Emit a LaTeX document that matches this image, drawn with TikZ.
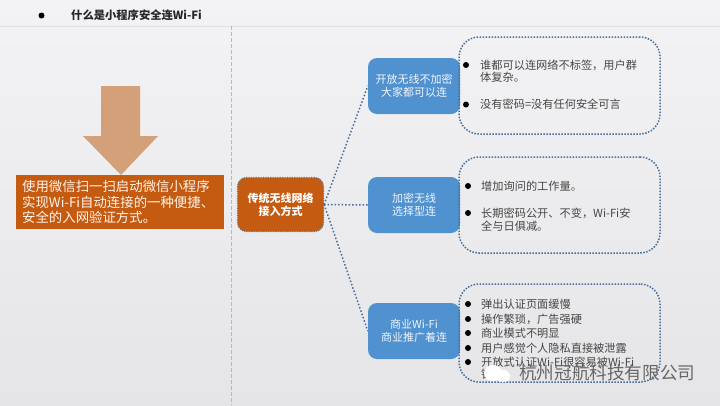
\documentclass[tikz,border=0pt]{standalone}
\usepackage{fontspec}
\usepackage{xcolor}
\setmainfont{Noto Sans CJK SC}
\definecolor{pagetop}{RGB}{243,243,245}
\definecolor{pagelow}{RGB}{229,229,231}
\definecolor{rustbox}{RGB}{197,90,17}
\definecolor{bluebox}{RGB}{80,145,208}
\definecolor{dotblue}{RGB}{70,110,155}
\definecolor{arrowtan}{RGB}{212,160,122}
\definecolor{splitline}{RGB}{232,170,130}
\definecolor{bodytext}{RGB}{70,70,70}
\tikzset{
    branchbox/.style={fill=bluebox, rounded corners=9pt, minimum width=92pt, minimum height=56pt, text=white!92!bluebox, align=center, font=\fontsize{11pt}{13pt}\selectfont, inner sep=0pt},
    notebox/.style={draw=dotblue, line width=1.5pt, dash pattern=on 1.5pt off 1.5pt, rounded corners=20pt, minimum width=201pt, inner sep=0pt},
    linkline/.style={draw=dotblue, line width=1.5pt, dash pattern=on 1.5pt off 2pt},
    bodyline/.style={anchor=west, text=bodytext, font=\fontsize{11.2pt}{12.5pt}\selectfont, inner sep=0pt},
    bulletdot/.style={circle, fill=black, inner sep=0pt, minimum size=6pt},
}
\begin{document}
\begin{tikzpicture}[x=1pt, y=-1pt]
    \useasboundingbox (0, 0) rectangle (720, 405);
    \shade[top color=pagetop, bottom color=pagelow] (0, 0) rectangle (720, 405);

    % header
    \draw[black!12, line width=0.6pt] (0, 26) -- (720, 26);
    \node[bulletdot] (headdot) at (41.5, 15.5) {};
    \node[anchor=west, inner sep=0pt, font=\bfseries\fontsize{11.3pt}{13pt}\selectfont, text=black!85] (headtext) at (71, 15.5) {什么是小程序安全连Wi-Fi};
    \draw[splitline, line width=1.4pt, dash pattern=on 4pt off 2pt] (231.5, 26) -- (231.5, 405);

    % left side
    \fill[arrowtan] (101, 86) -- (140, 86) -- (140, 136) -- (158, 136) -- (121, 175) -- (83, 136) -- (101, 136) -- cycle;
    \node[fill=rustbox, minimum width=208pt, minimum height=54pt, inner sep=0pt] (introbox) at (120, 202) {};
    \node[anchor=west, align=left, text=white!92!orange, inner sep=0pt, font=\fontsize{13.4pt}{15.5pt}\selectfont] (introtext) at (22, 202) {使用微信扫一扫启动微信小程序\\实现Wi-Fi自动连接的一种便捷、\\安全的入网验证方式。};

    % tree
    \node[fill=rustbox, draw=black!55, line width=1.2pt, dash pattern=on 1.2pt off 1.2pt, rounded corners=9pt, minimum width=86pt, minimum height=54pt, text=white, align=center, inner sep=0pt, font=\bfseries\fontsize{11pt}{13pt}\selectfont] (rootbox) at (280.5, 204.5) {传统无线网络\\接入方式};
    \node[branchbox] (openbox) at (414, 86) {开放无线不加密\\大家都可以连};
    \node[branchbox] (lockbox) at (414, 205) {加密无线\\选择型连};
    \node[branchbox] (shopbox) at (414, 331) {商业Wi-Fi\\商业推广着连};
    \draw[linkline] (rootbox.east) -- (openbox.west);
    \draw[linkline] (rootbox.east) -- (lockbox.west);
    \draw[linkline] (rootbox.east) -- (shopbox.west);

    % note boxes
    \node[notebox, minimum height=97pt] (opennote) at (559.5, 85.5) {};
    \node[notebox, minimum height=96pt] (locknote) at (559.5, 205) {};
    \node[notebox, minimum height=98pt] (shopnote) at (559.5, 333) {};

    \node[bulletdot] (opendota) at (466, 65) {};
    \node[bodyline, align=left] (opentexta) at (480, 71) {谁都可以连网络不标签，用户群\\体复杂。};
    \node[bulletdot] (opendotb) at (466, 104.5) {};
    \node[bodyline] (opentextb) at (480, 104.5) {没有密码=没有任何安全可言};

    \node[bulletdot] (lockdota) at (468, 186) {};
    \node[bodyline] (locktexta) at (481, 186) {增加询问的工作量。};
    \node[bulletdot] (lockdotb) at (468, 213) {};
    \node[bodyline, align=left] (locktextb) at (481, 219.5) {长期密码公开、不变，Wi-Fi安\\全与日俱减。};

    \node[bulletdot] (shopdota) at (468, 304) {};
    \node[bodyline] (shoptexta) at (481, 304) {弹出认证页面缓慢};
    \node[bulletdot] (shopdotb) at (468, 319) {};
    \node[bodyline] (shoptextb) at (481, 319) {操作繁琐，广告强硬};
    \node[bulletdot] (shopdotc) at (468, 333) {};
    \node[bodyline] (shoptextc) at (481, 333) {商业模式不明显};
    \node[bulletdot] (shopdotd) at (468, 348) {};
    \node[bodyline] (shoptextd) at (481, 348) {用户感觉个人隐私直接被泄露};
    \node[bulletdot] (shopdote) at (468, 362) {};
    \node[bodyline, align=left] (shoptexte) at (481, 368) {开放式认证Wi-Fi很容易被Wi-Fi\\钓鱼};

    % watermark
    \fill[white] (493, 373) ellipse (9pt and 8pt);
    \fill[white] (503, 376) ellipse (7pt and 6pt);
    \node[anchor=west, inner sep=0pt, text=black!60, font=\fontsize{17.6pt}{20pt}\selectfont] (marktext) at (519, 373) {杭州冠航科技有限公司};
\end{tikzpicture}
\end{document}
